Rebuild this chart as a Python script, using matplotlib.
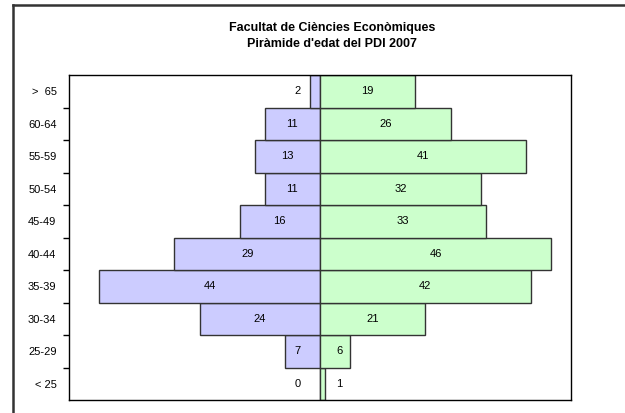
import numpy as np
import matplotlib
matplotlib.use("Agg")
import matplotlib.pyplot as plt
from matplotlib.lines import Line2D

plt.rcParams["font.family"] = ["Liberation Sans", "DejaVu Sans"]

# ----------------------------
# Data
# ----------------------------
groups = ["< 25", "25-29", "30-34", "35-39", "40-44",
          "45-49", "50-54", "55-59", "60-64", ">  65"]
left_vals = [0, 7, 24, 44, 29, 16, 11, 13, 11, 2]
right_vals = [1, 6, 21, 42, 46, 33, 32, 41, 26, 19]

title = "Facultat de Ciències Econòmiques\nPiràmide d'edat del PDI 2007"

# ----------------------------
# Figure
# ----------------------------
fig = plt.figure(figsize=(6.25, 4.13), dpi=100)
ax = fig.add_axes([69 / 625, 13 / 413, 502 / 625, 325 / 413])

y = np.arange(len(groups))
left = -np.array(left_vals)
right = np.array(right_vals)

ax.barh(y, left, height=1.0, color="#CCCCFF", edgecolor="#333333", linewidth=1)
ax.barh(y, right, height=1.0, color="#CCFFCC", edgecolor="#333333", linewidth=1)

for i in range(len(groups)):
    lx = -max(left_vals[i] / 2, 4.4)
    rx = max(right_vals[i] / 2, 3.8)
    ax.text(lx, y[i], str(left_vals[i]), ha="center", va="center", fontsize=8)
    ax.text(rx, y[i], str(right_vals[i]), ha="center", va="center", fontsize=8)

ax.set_xlim(-50, 50)
ax.set_ylim(-0.5, len(groups) - 0.5)
ax.set_xticks([])
ax.set_yticks(y)
ax.set_yticklabels(groups, fontsize=8)
# tick marks only between categories
ax.set_yticks(np.arange(0.5, len(groups) - 1, 1.0), minor=True)
ax.tick_params(axis="y", which="major", length=0, pad=9)
ax.tick_params(axis="y", which="minor", length=4, width=1, direction="out")

for s in ax.spines.values():
    s.set_linewidth(1)
    s.set_color("black")

fig.text(332 / 625, 1 - 36 / 413, title, ha="center", va="center",
         fontsize=9, fontweight="bold", linespacing=1.5)

# outer chart frame (left and top only visible)
fig.add_artist(Line2D([13 / 625, 13 / 625], [0, 1 - 5 / 413],
                      color="#333333", linewidth=1.8))
fig.add_artist(Line2D([13 / 625, 1], [1 - 5 / 413, 1 - 5 / 413],
                      color="#333333", linewidth=1.8))

fig.savefig("out.png", dpi=100)
